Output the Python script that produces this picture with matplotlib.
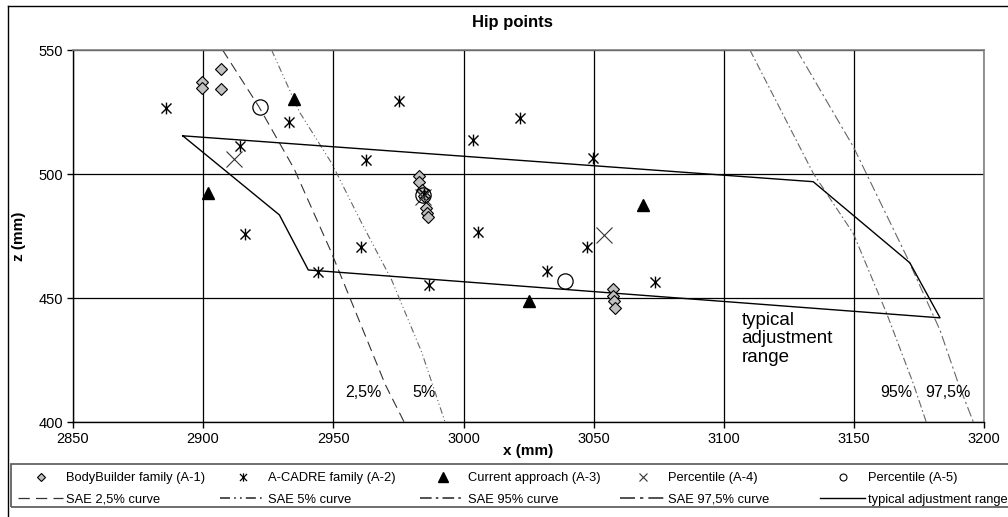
#!/usr/bin/env python3

import matplotlib
matplotlib.use("Agg")
import matplotlib.pyplot as plt
from matplotlib.lines import Line2D
from matplotlib.patches import Rectangle
from matplotlib.path import Path

plt.rcParams['font.family'] = ['Liberation Sans', 'DejaVu Sans']

# BodyBuilder family (A-1)
bb_x = [2899.5, 2899.5, 2906.8, 2906.8, 2982.8, 2982.8, 2984.0, 2985.0, 2985.6,
        2986.0, 2986.3, 3057.3, 3057.3, 3057.8, 3058.0]
bb_z = [537.0, 534.5, 542.3, 534.2, 499.3, 496.9, 493.5, 491.0, 486.3,
        484.2, 482.5, 453.5, 450.8, 448.8, 445.8]

# A-CADRE family (A-2)
ac_x = [2885.6, 2932.9, 2914.2, 2916.2, 2944.0, 2960.5, 2962.6, 2975.3, 2985.0,
        2986.8, 3003.8, 3005.5, 3021.7, 3032.2, 3047.3, 3049.8, 3073.5]
ac_z = [526.7, 521.0, 511.4, 475.7, 460.6, 470.7, 505.5, 529.6, 492.0,
        455.4, 513.6, 476.5, 522.7, 461.0, 470.7, 506.5, 456.3]

# Current approach (A-3)
ca_x = [2902.0, 2935.0, 3025.2, 3069.0]
ca_z = [492.5, 530.1, 448.8, 487.5]

# Percentile (A-4) and (A-5)
p4_x = [2911.9, 2984.6, 3053.9]
p4_z = [506.2, 490.8, 475.4]
p5_x = [2921.9, 2984.3, 3039.1]
p5_z = [527.1, 491.5, 457.0]

# SAE curves
sae25_x = [2907.5, 2921.5, 2935.0, 2949.0, 2970.0, 2977.2]
sae25_z = [550.0, 527.0, 502.0, 469.0, 415.0, 400.0]
sae5_x = [2926.3, 2937.0, 2949.4, 2961.0, 2972.4, 2984.0, 2992.9]
sae5_z = [550.0, 525.0, 504.3, 480.0, 457.3, 428.0, 400.0]
sae95_x = [3110.0, 3134.3, 3149.7, 3162.5, 3172.7, 3177.7]
sae95_z = [550.0, 500.3, 476.0, 443.8, 415.6, 400.0]
sae975_x = [3128.0, 3149.7, 3170.2, 3183.0, 3190.0, 3195.8]
sae975_z = [550.0, 511.0, 466.7, 437.0, 415.6, 400.0]

# typical adjustment range
range_x = [2892.2, 3134.3, 3171.4, 3183.0, 2940.4, 2929.3, 2892.2]
range_z = [515.4, 496.9, 464.2, 442.0, 461.3, 483.5, 515.4]

x_ticks = [2850, 2900, 2950, 3000, 3050, 3100, 3150, 3200]
z_ticks = [400, 450, 500, 550]

# asterisk like the spreadsheet one: X plus vertical bar
STAR = Path([(0, -1), (0, 1), (-0.85, -0.85), (0.85, 0.85), (-0.85, 0.85), (0.85, -0.85)],
            [Path.MOVETO, Path.LINETO, Path.MOVETO, Path.LINETO, Path.MOVETO, Path.LINETO])

W, H = 1008, 517
fig = plt.figure(figsize=(W / 100, H / 100), dpi=100)
ax = fig.add_axes([72.9 / W, 1 - 422 / H, (984.3 - 72.9) / W, (422 - 50) / H])

ls25 = (0, (9, 5))
ls5 = (0, (6, 2.5, 1, 2.5, 1, 2.5))
ls95 = (0, (7, 2.5, 1.5, 2.5))
ls975 = (0, (9, 3, 2, 3))

ax.plot(sae25_x, sae25_z, color='#333333', lw=0.8, ls=ls25)
ax.plot(sae5_x, sae5_z, color='#666666', lw=0.8, ls=ls5)
ax.plot(sae95_x, sae95_z, color='#666666', lw=0.8, ls=ls95)
ax.plot(sae975_x, sae975_z, color='#666666', lw=0.8, ls=ls975)
ax.plot(range_x, range_z, color='black', lw=1.0)

ax.plot(bb_x, bb_z, ls='none', marker='D', ms=6, mfc='#c0c0c0', mec='black', mew=0.8)
ax.plot(ac_x, ac_z, ls='none', marker=STAR, ms=8.5, mec='black', mew=1.0)
ax.plot(ca_x, ca_z, ls='none', marker='^', ms=9, mfc='black', mec='black')
ax.plot(p4_x, p4_z, ls='none', marker='x', ms=12, mec='#333333', mew=0.8)
ax.plot(p5_x, p5_z, ls='none', marker='o', ms=11, mfc='none', mec='black', mew=0.9)

ax.text(2954.5, 412, '2,5%', fontsize=11.5, va='center', ha='left')
ax.text(2980.3, 412, '5%', fontsize=11.5, va='center', ha='left')
ax.text(3160.2, 412, '95%', fontsize=11.5, va='center', ha='left')
ax.text(3177.2, 412, '97,5%', fontsize=11.5, va='center', ha='left')
ax.text(3106.8, 444.5, 'typical\nadjustment\nrange', fontsize=13.5, va='top', ha='left',
        linespacing=1.13)

ax.set_xlim(2850, 3200)
ax.set_ylim(400, 550)
ax.set_xticks(x_ticks)
ax.set_yticks(z_ticks)
ax.grid(True, color='black', lw=0.9)
ax.set_axisbelow(True)
ax.tick_params(labelsize=10.5, length=4, width=1, direction='out', pad=3)
for side in ['top', 'right']:
    ax.spines[side].set_color('#808080')
    ax.spines[side].set_linewidth(1.2)
for side in ['left', 'bottom']:
    ax.spines[side].set_linewidth(1.0)

ax.set_xlabel('x (mm)', fontsize=11, fontweight='bold')
ax.set_ylabel('z (mm)', fontsize=11, fontweight='bold')
ax.xaxis.set_label_coords(0.5, -0.059)
ax.yaxis.set_label_coords(-0.052, 0.5)

fig.text(512 / W, 1 - 23 / H, 'Hip points', fontsize=12, fontweight='bold',
         ha='center', va='center')

# chart area frame (left and top edges visible)
fig.add_artist(Line2D([8 / W, 8 / W], [0, 1 - 6 / H], color='black', lw=1.0))
fig.add_artist(Line2D([8 / W, 1], [1 - 6 / H, 1 - 6 / H], color='black', lw=1.0))

# legend box
fig.add_artist(Rectangle((11 / W, 1 - 507 / H), 1.0, 43 / H, transform=fig.transFigure,
                         fill=False, edgecolor='#555555', lw=1.2, clip_on=False))

h_bb = Line2D([], [], ls='none', marker='D', ms=4.5, mfc='#c0c0c0', mec='black', mew=0.8)
h_ac = Line2D([], [], ls='none', marker=STAR, ms=6, mec='black', mew=0.9)
h_ca = Line2D([], [], ls='none', marker='^', ms=6.5, mfc='black', mec='black')
h_p4 = Line2D([], [], ls='none', marker='x', ms=6, mec='#333333', mew=0.8)
h_p5 = Line2D([], [], ls='none', marker='o', ms=5, mfc='none', mec='black', mew=0.8)
h_25 = Line2D([], [], color='#333333', lw=0.9, ls=ls25)
h_5 = Line2D([], [], color='#333333', lw=1.2, ls=ls5)
h_95 = Line2D([], [], color='#333333', lw=1.2, ls=ls95)
h_975 = Line2D([], [], color='#333333', lw=1.2, ls=ls975)
h_rg = Line2D([], [], color='black', lw=1.0)

columns = [
    (18, [h_bb, h_25], ['BodyBuilder family (A-1)', 'SAE 2,5% curve']),
    (220, [h_ac, h_5], ['A-CADRE family (A-2)', 'SAE 5% curve']),
    (420, [h_ca, h_95], ['Current approach (A-3)', 'SAE 95% curve']),
    (620, [h_p4, h_975], ['Percentile (A-4)', 'SAE 97,5% curve']),
    (820, [h_p5, h_rg], ['Percentile (A-5)', 'typical adjustment range']),
]
for px, handles, labels in columns:
    fig.legend(handles, labels, loc='upper left', bbox_to_anchor=(px / W, 1 - 472 / H),
               frameon=False, fontsize=9.3, borderpad=0, handlelength=3.5,
               handletextpad=0.25, labelspacing=0.75, borderaxespad=0)

fig.savefig('out.png', dpi=100)
